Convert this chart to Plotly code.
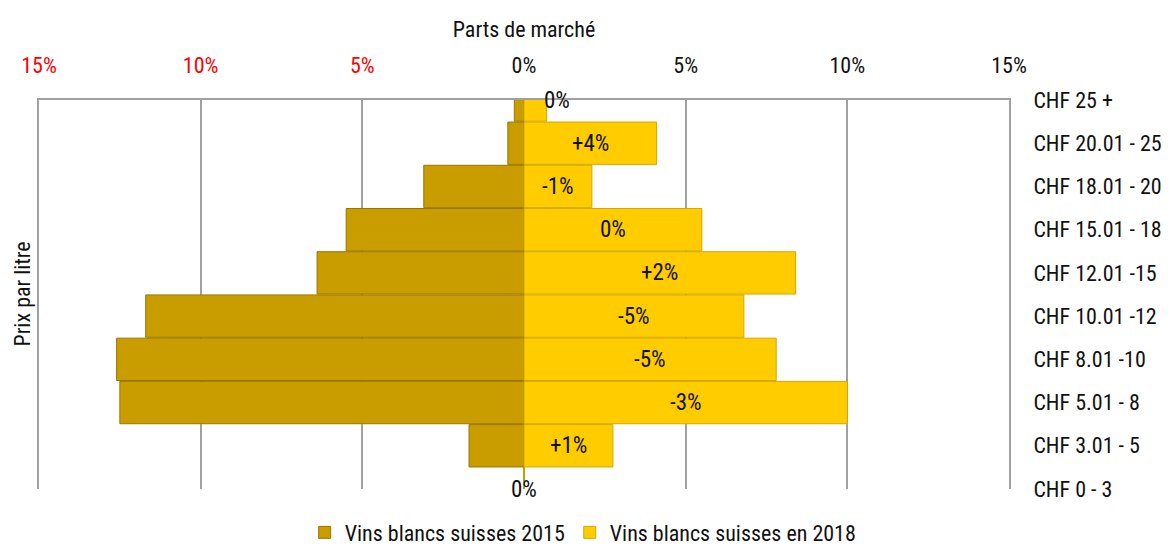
import plotly.graph_objects as go

categories = ["CHF 0 - 3", "CHF 3.01 - 5", "CHF 5.01 - 8", "CHF 8.01 -10", "CHF 10.01 -12",
              "CHF 12.01 -15", "CHF 15.01 - 18", "CHF 18.01 - 20", "CHF 20.01 - 25", "CHF 25 +"]
share_2015 = [0.0, 1.7, 12.5, 12.6, 11.7, 6.4, 5.5, 3.1, 0.5, 0.3]
share_2018 = [0.0, 2.75, 10.0, 7.8, 6.8, 8.4, 5.5, 2.1, 4.1, 0.7]
change_labels = ["0%", "+1%", "-3%", "-5%", "-5%", "+2%", "0%", "-1%", "+4%", "0%"]
tick_vals = [-15, -10, -5, 0, 5, 10, 15]
tick_text = ['<span style="color:#ff0000">15%</span>', '<span style="color:#ff0000">10%</span>',
             '<span style="color:#ff0000">5%</span>', "0%", "5%", "10%", "15%"]

FONT = "Liberation Sans Narrow, Roboto Condensed, Roboto, sans-serif"
FS = 21
ypos = list(range(len(categories)))

fig = go.Figure()
fig.add_trace(go.Bar(
    y=ypos, x=[-v for v in share_2015], orientation="h", name="Vins blancs suisses 2015",
    marker=dict(color="#C99C00", line=dict(color="#9A7600", width=1)),
    hoverinfo="skip"))
fig.add_trace(go.Bar(
    y=ypos, x=share_2018, orientation="h", name="Vins blancs suisses en 2018",
    marker=dict(color="#FFCC00", line=dict(color="#D4A800", width=1)),
    hoverinfo="skip"))

for i, (v, lab) in enumerate(zip(share_2018, change_labels)):
    fig.add_annotation(x=v / 2, y=i, text=lab, showarrow=False,
                       xshift=22 if i == len(categories) - 1 else 0,
                       font=dict(family=FONT, size=23, color="#111111"))

fig.add_annotation(x=-0.0175, y=0.5, xref="paper", yref="paper", text="Prix par litre",
                   textangle=-90, showarrow=False, xanchor="center",
                   font=dict(family=FONT, size=22, color="#111111"))

fig.update_layout(
    width=1162, height=542,
    margin=dict(l=31, r=161, t=92, b=61, autoexpand=False),
    paper_bgcolor="white", plot_bgcolor="white",
    barmode="relative", bargap=0.02,
    font=dict(family=FONT, size=FS, color="#111111"),
    legend=dict(orientation="h", x=0.561, xanchor="center", y=-0.112, yanchor="middle",
                font=dict(family=FONT, size=22), traceorder="normal"),
    xaxis=dict(side="top", range=[-15, 15], tickvals=tick_vals, ticktext=tick_text,
               tickfont=dict(family=FONT, size=22),
               showgrid=True, gridcolor="#a0a0a0", gridwidth=2,
               zeroline=True, zerolinecolor="#a0a0a0", zerolinewidth=2,
               showline=True, linecolor="#a0a0a0", linewidth=2,
               ticks="", ticklabelstandoff=16, automargin=False,
               title=dict(text="Parts de marché", standoff=10,
                          font=dict(family=FONT, size=22))),
    yaxis=dict(side="right", range=[0, 9], tickvals=ypos, ticktext=categories,
               tickfont=dict(family=FONT, size=22),
               showgrid=False, zeroline=False, showline=True, mirror=True,
               linecolor="#a0a0a0", linewidth=2, ticks="",
               ticklabelstandoff=18, automargin=False),
)

fig.write_html("out.html")
